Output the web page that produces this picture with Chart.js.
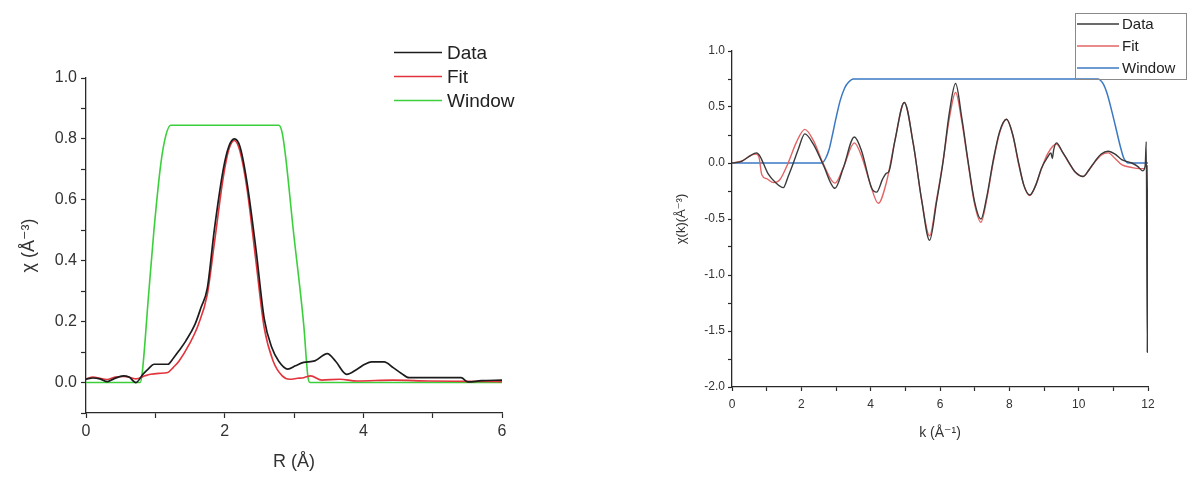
<!DOCTYPE html>
<html><head><meta charset="utf-8">
<script src="https://cdn.jsdelivr.net/npm/chart.js@4/dist/chart.umd.min.js"></script>
<style>
html,body{margin:0;padding:0;background:#fff;}
#wrap{position:relative;width:1188px;height:477px;background:#fff;}
.c{position:absolute;top:0;width:594px;height:477px;}
</style></head><body>
<div id="wrap">
<div class="c" style="left:0"><canvas id="leftChart" width="594" height="477"></canvas></div>
<div class="c" style="left:594px"><canvas id="rightChart" width="594" height="477"></canvas></div>
</div>
<script>
// ---------- Left panel: |chi(R)| ----------
const seriesLabels = ['Data', 'Fit', 'Window'];

const rData = [0, 0.1, 0.2, 0.31, 0.4, 0.54, 0.62, 0.72, 0.82, 0.9, 0.98, 1.08, 1.18, 1.26, 1.34, 1.44, 1.57, 1.66, 1.75, 1.85, 1.98, 2.06, 2.14, 2.22, 2.32, 2.45, 2.57, 2.68, 2.78, 2.91, 3.02, 3.14, 3.3, 3.48, 3.6, 3.76, 3.91, 4.02, 4.12, 4.3, 4.43, 4.55, 4.66, 5.0, 5.41, 5.51, 5.7, 6.0];
const chiRData = [0.011, 0.015, 0.012, 0.003, 0.012, 0.022, 0.018, 0.0, 0.027, 0.045, 0.06, 0.06, 0.06, 0.08, 0.104, 0.137, 0.19, 0.247, 0.31, 0.50, 0.70, 0.775, 0.80, 0.775, 0.66, 0.44, 0.21, 0.115, 0.07, 0.044, 0.055, 0.066, 0.071, 0.095, 0.07, 0.027, 0.044, 0.06, 0.068, 0.068, 0.049, 0.03, 0.016, 0.016, 0.016, 0.002, 0.006, 0.008];

const rFit = [0, 0.1, 0.2, 0.3, 0.42, 0.55, 0.65, 0.72, 0.85, 0.93, 1.05, 1.18, 1.26, 1.34, 1.49, 1.62, 1.75, 1.85, 1.98, 2.06, 2.14, 2.22, 2.32, 2.45, 2.57, 2.7, 2.83, 2.94, 3.05, 3.14, 3.24, 3.4, 3.66, 3.91, 4.43, 4.94, 5.5, 6.0];
const chiRFit = [0.012, 0.018, 0.014, 0.01, 0.018, 0.02, 0.016, 0.012, 0.022, 0.027, 0.03, 0.033, 0.05, 0.07, 0.126, 0.19, 0.29, 0.455, 0.674, 0.765, 0.795, 0.76, 0.64, 0.40, 0.18, 0.07, 0.022, 0.011, 0.014, 0.016, 0.022, 0.008, 0.011, 0.005, 0.008, 0.005, 0.004, 0.003];

const rWin = [0, 0.78, 0.81, 0.9, 0.98, 1.08, 1.15, 1.22, 2.78, 2.83, 2.88, 2.99, 3.14, 3.2, 3.23, 6];
const chiRWin = [0, 0, 0.03, 0.28, 0.5, 0.72, 0.81, 0.845, 0.845, 0.82, 0.74, 0.5, 0.19, 0.02, 0, 0];

// ---------- Right panel: chi(k) ----------
const kData = [0, 0.28, 0.5, 0.71, 0.81, 0.9, 1.05, 1.24, 1.48, 1.62, 1.77, 1.92, 2.1, 2.35, 2.63, 2.97, 3.21, 3.53, 3.74, 4.03, 4.17, 4.35, 4.46, 4.52, 4.7, 4.97, 5.23, 5.47, 5.70, 5.9, 6.09, 6.27, 6.45, 6.63, 6.81, 7.0, 7.18, 7.35, 7.53, 7.72, 7.92, 8.1, 8.26, 8.42, 8.59, 8.76, 8.93, 9.1, 9.2, 9.24, 9.28, 9.36, 9.53, 9.7, 9.9, 10.13, 10.3, 10.47, 10.65, 10.85, 11.05, 11.24, 11.53, 11.7, 11.85, 11.92, 11.95, 11.98, 12.0];
const chiKData = [0, 0.015, 0.06, 0.09, 0.06, 0.0, -0.1, -0.17, -0.22, -0.12, 0.0, 0.13, 0.26, 0.166, -0.015, -0.226, -0.045, 0.232, 0.105, -0.226, -0.26, -0.14, -0.09, -0.08, 0.2, 0.54, 0.17, -0.33, -0.69, -0.35, 0.015, 0.45, 0.71, 0.4, 0.015, -0.35, -0.50, -0.3, 0.015, 0.28, 0.39, 0.25, 0.015, -0.2, -0.286, -0.2, -0.045, 0.05, 0.09, 0.04, 0.12, 0.18, 0.1, 0.015, -0.08, -0.12, -0.06, 0.015, 0.08, 0.105, 0.08, 0.03, 0.0, -0.03, -0.07, -0.02, 0.19, -1.69, -0.02];

const kFit = [0, 0.3, 0.55, 0.7, 0.78, 0.86, 1.0, 1.2, 1.38, 1.62, 1.85, 2.1, 2.35, 2.65, 2.97, 3.2, 3.53, 3.75, 4.0, 4.22, 4.46, 4.7, 4.97, 5.23, 5.47, 5.70, 5.9, 6.09, 6.27, 6.45, 6.63, 6.81, 7.0, 7.18, 7.35, 7.53, 7.72, 7.92, 8.1, 8.26, 8.42, 8.59, 8.76, 8.93, 9.1, 9.36, 9.53, 9.7, 9.9, 10.13, 10.3, 10.47, 10.65, 10.85, 11.05, 11.24, 11.53, 11.75, 11.9];
const chiKFit = [0, 0.02, 0.07, 0.08, 0.05, -0.105, -0.14, -0.175, -0.15, 0.0, 0.18, 0.3, 0.2, -0.02, -0.18, -0.05, 0.18, 0.05, -0.2, -0.36, -0.166, 0.2, 0.54, 0.17, -0.33, -0.65, -0.33, 0.02, 0.4, 0.63, 0.37, 0.0, -0.37, -0.53, -0.32, 0.0, 0.27, 0.39, 0.25, 0.0, -0.2, -0.29, -0.2, -0.05, 0.08, 0.17, 0.1, 0.01, -0.08, -0.12, -0.06, 0.01, 0.07, 0.09, 0.04, -0.015, -0.04, -0.05, -0.05];

const kWin = [0, 2.59, 2.7, 2.8, 2.88, 3.0, 3.12, 3.25, 3.36, 3.5, 10.55, 10.7, 10.82, 10.95, 11.06, 11.2, 11.3, 11.44, 12];
const chiKWin = [0, 0, 0.04, 0.12, 0.226, 0.40, 0.557, 0.67, 0.72, 0.75, 0.75, 0.71, 0.62, 0.47, 0.33, 0.15, 0.045, 0, 0];

// ticks
const rTickStep = 1, rMajorEvery = 2;
const kTickStep = 1, kMajorEvery = 2;

const FONT = '"Liberation Sans", Arial, "DejaVu Sans", sans-serif';
const toXY = (xs, ys) => xs.map((x, i) => ({ x: x, y: ys[i] }));

const originLegend = {
  id: 'originLegend',
  afterDraw(chart, args, o) {
    const ctx = chart.ctx;
    ctx.save();
    if (o.box) {
      ctx.strokeStyle = o.box.color;
      ctx.lineWidth = 1;
      ctx.strokeRect(o.box.x, o.box.y, o.box.w, o.box.h);
    }
    chart.data.datasets.forEach((ds, i) => {
      const y = o.y0 + i * o.dy;
      ctx.strokeStyle = ds.borderColor;
      ctx.lineWidth = ds.borderWidth;
      ctx.beginPath();
      ctx.moveTo(o.x0, y);
      ctx.lineTo(o.x1, y);
      ctx.stroke();
      ctx.fillStyle = o.color;
      ctx.font = o.size + 'px ' + FONT;
      ctx.textBaseline = 'middle';
      ctx.textAlign = 'left';
      ctx.fillText(ds.label, o.tx, y + 1);
    });
    ctx.restore();
  }
};

function lineDs(label, xs, ys, color, w) {
  return {
    label: label, data: toXY(xs, ys), borderColor: color, backgroundColor: color,
    borderWidth: w, pointRadius: 0, fill: false, cubicInterpolationMode: 'monotone'
  };
}

function axis(opts) {
  return {
    type: 'linear', min: opts.min, max: opts.max,
    border: { display: true, color: '#2a2a2a', width: 1.3 },
    grid: { drawOnChartArea: false, drawTicks: true, tickLength: opts.tl, color: '#2a2a2a', tickColor: '#2a2a2a', tickWidth: 1.2 },
    ticks: {
      stepSize: opts.step, autoSkip: false, maxRotation: 0, padding: opts.pad,
      color: '#333', font: { family: FONT, size: opts.fs },
      callback: opts.cb
    },
    title: {
      display: true, text: opts.title, color: '#333',
      font: { family: FONT, size: opts.tfs, lineHeight: 1.2 },
      padding: opts.tpad
    },
    afterFit: opts.fit
  };
}

// Left chart
new Chart(document.getElementById('leftChart'), {
  type: 'line',
  data: {
    datasets: [
      lineDs(seriesLabels[0], rData, chiRData, '#1c1c1c', 1.7),
      lineDs(seriesLabels[1], rFit, chiRFit, '#e2343c', 1.6),
      lineDs(seriesLabels[2], rWin, chiRWin, '#3ccf3c', 1.6)
    ]
  },
  options: {
    responsive: false, animation: false,
    layout: { padding: { left: 0, right: 92, top: 78, bottom: 0 } },
    plugins: {
      legend: { display: false }, tooltip: { enabled: false },
      originLegend: { x0: 394, x1: 442, tx: 447, y0: 52.5, dy: 24, size: 19, color: '#222' }
    },
    scales: {
      x: axis({ min: 0, max: 6, step: rTickStep, tl: 5, pad: 4, fs: 16,
        cb: v => (Math.round(v) % rMajorEvery === 0 ? String(Math.round(v)) : ''),
        title: 'R (Å)', tfs: 18, tpad: { top: 0, bottom: 4.5 },
        fit: s => { s.height = 64; } }),
      y: axis({ min: -0.1, max: 1.0, step: 0.1, tl: 5, pad: 4, fs: 16,
        cb: v => { const t = Math.round(v * 10); return (t >= 0 && t % 2 === 0) ? (t / 10).toFixed(1) : ''; },
        title: 'χ (Å⁻³)', tfs: 18, tpad: { top: 18, bottom: 0 },
        fit: s => { s.width = 86; } })
    }
  },
  plugins: [originLegend]
});

// Right chart
new Chart(document.getElementById('rightChart'), {
  type: 'line',
  data: {
    datasets: [
      lineDs(seriesLabels[0], kData, chiKData, '#3a3a3a', 1.4),
      lineDs(seriesLabels[1], kFit, chiKFit, '#e36464', 1.4),
      lineDs(seriesLabels[2], kWin, chiKWin, '#3b78c2', 1.5)
    ]
  },
  options: {
    responsive: false, animation: false,
    layout: { padding: { left: 0, right: 40, top: 51, bottom: 26 } },
    plugins: {
      legend: { display: false }, tooltip: { enabled: false },
      originLegend: { x0: 483, x1: 525, tx: 528, y0: 24, dy: 22, size: 15, color: '#222',
        box: { x: 481.5, y: 13.5, w: 111, h: 66, color: '#8a8a8a' } }
    },
    scales: {
      x: axis({ min: 0, max: 12, step: kTickStep, tl: 4, pad: 6, fs: 12,
        cb: v => (Math.round(v) % kMajorEvery === 0 ? String(Math.round(v)) : ''),
        title: 'k (Å⁻¹)', tfs: 14, tpad: { top: 0, bottom: 9.5 },
        fit: s => { s.height = 64; } }),
      y: axis({ min: -2, max: 1, step: 0.25, tl: 4, pad: 3, fs: 12,
        cb: v => { const t = Math.round(v * 4); return (t % 2 === 0) ? (t / 4).toFixed(1) : ''; },
        title: 'χ(k)(Å⁻³)', tfs: 13, tpad: { top: 80, bottom: 0 },
        fit: s => { s.width = 138; } })
    }
  },
  plugins: [originLegend]
});
</script>
</body></html>
